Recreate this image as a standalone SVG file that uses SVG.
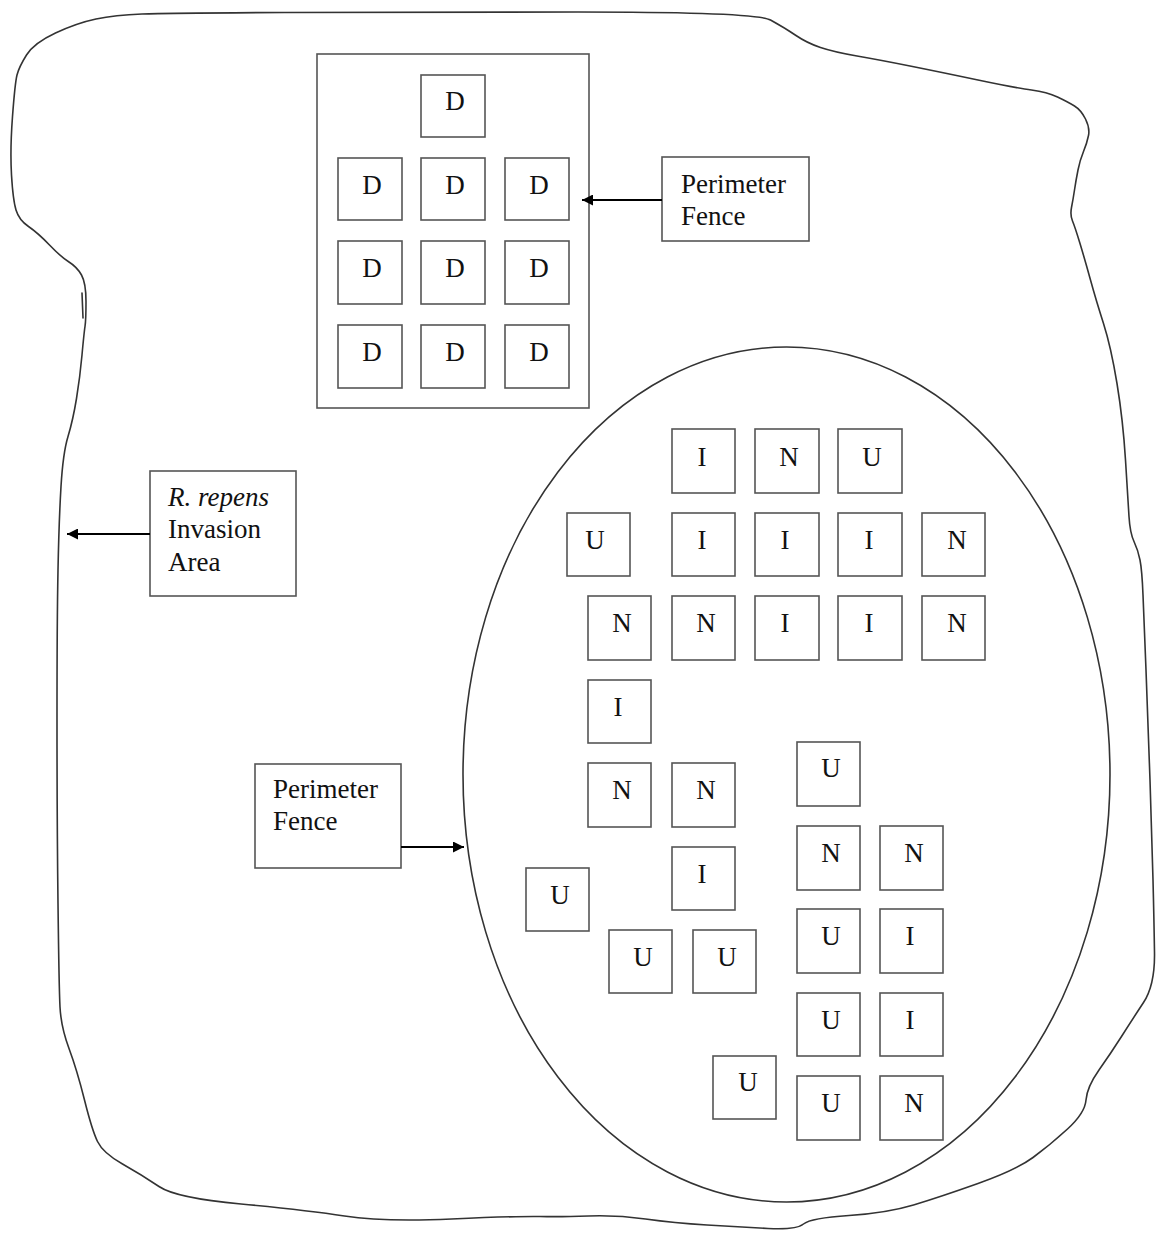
<svg xmlns="http://www.w3.org/2000/svg" width="1156" height="1233" viewBox="0 0 1156 1233">
<style>
.bx{fill:#fff;stroke:#555;stroke-width:1.6}
.ln{fill:none;stroke:#333;stroke-width:1.6;stroke-linejoin:round;stroke-linecap:round}
.t{font-family:"Liberation Serif","Times New Roman",serif;font-size:27px;fill:#111}
.c{text-anchor:middle}
.conn{stroke:#000;stroke-width:2.2;fill:none}
</style>
<defs>
<marker id="ah" viewBox="0 0 10 10" refX="10" refY="5" markerWidth="5.5" markerHeight="5" orient="auto" markerUnits="strokeWidth">
<path d="M0,0 L10,5 L0,10 z" fill="#000"/>
</marker>
</defs>
<rect width="1156" height="1233" fill="#fff"/>
<g id="invasion-area-outline">
<path class="ln" d="M96,19 Q115,15 142,14 Q169,13 284.5,12.5 Q400,12 578,12 Q756,12 770.5,20 Q785,28 796,35.5 Q807,43 820.5,47.5 Q834,52 857,56 Q880,60 910,66 Q940,72 978,80 Q1016,88 1031.5,90 Q1047,92 1057.5,97 Q1068,102 1074.5,106 Q1081,110 1085.5,119 Q1090,128 1088.5,135.5 Q1087,143 1083.5,151.5 Q1080,160 1078,170 Q1076,180 1074.5,190 Q1073,200 1071.5,207.5 Q1070,215 1072.5,221 Q1075,227 1080,243.5 Q1085,260 1090.5,280 Q1096,300 1103.5,323.5 Q1111,347 1117,383.5 Q1123,420 1125.5,460 Q1128,500 1129,516.5 Q1130,533 1134,541.5 Q1138,550 1140,560 Q1142,570 1143,595 Q1144,620 1146,670 Q1148,720 1150,780 Q1152,840 1153,880 Q1154,920 1154.5,952.5 Q1155,985 1143.5,1002.5 Q1132,1020 1121.5,1036.5 Q1111,1053 1099,1070 Q1087,1087 1086,1100 Q1085,1113 1067.5,1129 Q1050,1145 1033,1157.5 Q1016,1170 978,1183.5 Q940,1197 913.5,1205 Q887,1213 849,1215.5 Q811,1218 803.5,1224 Q796,1230 768,1228.5 Q740,1227 707,1225 Q674,1223 645.5,1219 Q617,1215 588.5,1216 Q560,1217 540,1216.5 Q520,1216 451.5,1219 Q383,1222 344.5,1216 Q306,1210 241,1204 Q176,1198 159,1186.5 Q142,1175 122.5,1164 Q103,1153 97.5,1141.5 Q92,1130 84.5,1100 Q77,1070 69,1048.5 Q61,1027 60,1007 Q59,987 58,903.5 Q57,820 57,720 Q57,620 58,570 Q59,520 61,486.5 Q63,453 68,436.5 Q73,420 76.5,398.5 Q80,377 82,355 Q84,333 85,326.5 Q86,320 86,301.5 Q86,283 81.5,275 Q77,267 69,262 Q61,257 49.5,245 Q38,233 28.5,226.5 Q19,220 16,210 Q13,200 11.5,175 Q10,150 12.5,116.5 Q15,83 17,75 Q19,67 26.5,55 Q34,43 55.5,33 Q77,23 96,19 Z"/>
<path class="ln" d="M82,293 L83,318"/>
</g>
<g id="fence-top">
<rect class="bx" x="317" y="54" width="272" height="354"/>
</g>
<g id="fence-oval">
<ellipse cx="786.5" cy="774.5" rx="323.5" ry="427.5" fill="none" stroke="#333" stroke-width="1.6"/>
</g>
<g id="d-plots">
<g id="d1"><rect class="bx" x="421" y="75" width="64" height="62"/><text class="t c" x="455" y="110">D</text></g>
<g id="d2"><rect class="bx" x="338" y="158" width="64" height="62"/><text class="t c" x="372" y="194">D</text></g>
<g id="d3"><rect class="bx" x="421" y="158" width="64" height="62"/><text class="t c" x="455" y="194">D</text></g>
<g id="d4"><rect class="bx" x="505" y="158" width="64" height="62"/><text class="t c" x="539" y="194">D</text></g>
<g id="d5"><rect class="bx" x="338" y="241" width="64" height="63"/><text class="t c" x="372" y="277">D</text></g>
<g id="d6"><rect class="bx" x="421" y="241" width="64" height="63"/><text class="t c" x="455" y="277">D</text></g>
<g id="d7"><rect class="bx" x="505" y="241" width="64" height="63"/><text class="t c" x="539" y="277">D</text></g>
<g id="d8"><rect class="bx" x="338" y="325" width="64" height="63"/><text class="t c" x="372" y="361">D</text></g>
<g id="d9"><rect class="bx" x="421" y="325" width="64" height="63"/><text class="t c" x="455" y="361">D</text></g>
<g id="d10"><rect class="bx" x="505" y="325" width="64" height="63"/><text class="t c" x="539" y="361">D</text></g>
</g>
<g id="oval-plots">
<g id="p1"><rect class="bx" x="672" y="429" width="63" height="64"/><text class="t c" x="702" y="466">I</text></g>
<g id="p2"><rect class="bx" x="755" y="429" width="64" height="64"/><text class="t c" x="789" y="466">N</text></g>
<g id="p3"><rect class="bx" x="838" y="429" width="64" height="64"/><text class="t c" x="872" y="466">U</text></g>
<g id="p4"><rect class="bx" x="567" y="513" width="63" height="63"/><text class="t c" x="595" y="549">U</text></g>
<g id="p5"><rect class="bx" x="672" y="513" width="63" height="63"/><text class="t c" x="702" y="549">I</text></g>
<g id="p6"><rect class="bx" x="755" y="513" width="64" height="63"/><text class="t c" x="785" y="549">I</text></g>
<g id="p7"><rect class="bx" x="838" y="513" width="64" height="63"/><text class="t c" x="869" y="549">I</text></g>
<g id="p8"><rect class="bx" x="922" y="513" width="63" height="63"/><text class="t c" x="957" y="549">N</text></g>
<g id="p9"><rect class="bx" x="588" y="596" width="63" height="64"/><text class="t c" x="622" y="632">N</text></g>
<g id="p10"><rect class="bx" x="672" y="596" width="63" height="64"/><text class="t c" x="706" y="632">N</text></g>
<g id="p11"><rect class="bx" x="755" y="596" width="64" height="64"/><text class="t c" x="785" y="632">I</text></g>
<g id="p12"><rect class="bx" x="838" y="596" width="64" height="64"/><text class="t c" x="869" y="632">I</text></g>
<g id="p13"><rect class="bx" x="922" y="596" width="63" height="64"/><text class="t c" x="957" y="632">N</text></g>
<g id="p14"><rect class="bx" x="588" y="680" width="63" height="63"/><text class="t c" x="618" y="716">I</text></g>
<g id="p15"><rect class="bx" x="588" y="763" width="63" height="64"/><text class="t c" x="622" y="799">N</text></g>
<g id="p16"><rect class="bx" x="672" y="763" width="63" height="64"/><text class="t c" x="706" y="799">N</text></g>
<g id="p17"><rect class="bx" x="797" y="742" width="63" height="64"/><text class="t c" x="831" y="777">U</text></g>
<g id="p18"><rect class="bx" x="797" y="826" width="63" height="64"/><text class="t c" x="831" y="862">N</text></g>
<g id="p19"><rect class="bx" x="880" y="826" width="63" height="64"/><text class="t c" x="914" y="862">N</text></g>
<g id="p20"><rect class="bx" x="672" y="847" width="63" height="63"/><text class="t c" x="702" y="883">I</text></g>
<g id="p21"><rect class="bx" x="526" y="868" width="63" height="63"/><text class="t c" x="560" y="904">U</text></g>
<g id="p22"><rect class="bx" x="609" y="930" width="63" height="63"/><text class="t c" x="643" y="966">U</text></g>
<g id="p23"><rect class="bx" x="693" y="930" width="63" height="63"/><text class="t c" x="727" y="966">U</text></g>
<g id="p24"><rect class="bx" x="797" y="909" width="63" height="64"/><text class="t c" x="831" y="945">U</text></g>
<g id="p25"><rect class="bx" x="880" y="909" width="63" height="64"/><text class="t c" x="910" y="945">I</text></g>
<g id="p26"><rect class="bx" x="797" y="993" width="63" height="63"/><text class="t c" x="831" y="1029">U</text></g>
<g id="p27"><rect class="bx" x="880" y="993" width="63" height="63"/><text class="t c" x="910" y="1029">I</text></g>
<g id="p28"><rect class="bx" x="713" y="1056" width="63" height="63"/><text class="t c" x="748" y="1091">U</text></g>
<g id="p29"><rect class="bx" x="797" y="1076" width="63" height="64"/><text class="t c" x="831" y="1112">U</text></g>
<g id="p30"><rect class="bx" x="880" y="1076" width="63" height="64"/><text class="t c" x="914" y="1112">N</text></g>
</g>
<g id="label-fence-top">
<rect class="bx" x="662" y="157" width="147" height="84"/>
<text class="t" x="681" y="193">Perimeter</text>
<text class="t" x="681" y="225">Fence</text>
</g>
<g id="label-invasion">
<rect class="bx" x="150" y="471" width="146" height="125"/>
<text class="t" x="168" y="506"><tspan font-style="italic">R. repens</tspan></text>
<text class="t" x="168" y="538">Invasion</text>
<text class="t" x="168" y="571">Area</text>
</g>
<g id="label-fence-oval">
<rect class="bx" x="255" y="764" width="146" height="104"/>
<text class="t" x="273" y="798">Perimeter</text>
<text class="t" x="273" y="830">Fence</text>
</g>
<g id="connectors">
<line class="conn" x1="662" y1="200" x2="582" y2="200" marker-end="url(#ah)"/>
<line class="conn" x1="150" y1="534" x2="67" y2="534" marker-end="url(#ah)"/>
<line class="conn" x1="401" y1="847" x2="464" y2="847" marker-end="url(#ah)"/>
</g>
</svg>
